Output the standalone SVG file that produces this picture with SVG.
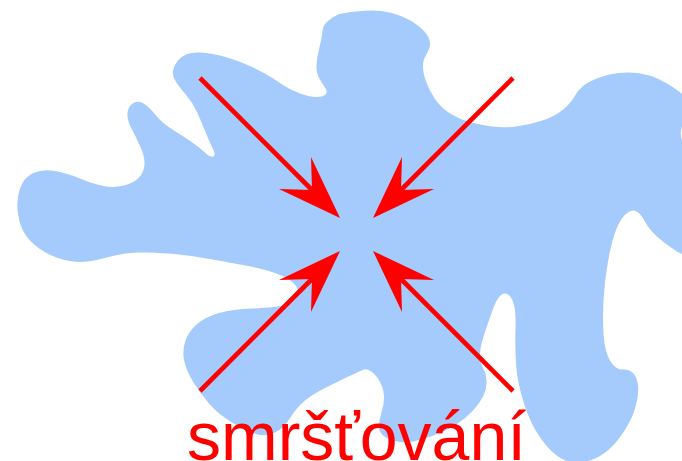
<svg xmlns="http://www.w3.org/2000/svg" width="682" height="461" viewBox="0 0 682 461">
<style>
.blob{fill:#a4cbfc;stroke:none}
.shaft{stroke:#ff0000;stroke-width:4.6;fill:none;stroke-linecap:butt}
.head{fill:#ff0000;stroke:none}
.label{font-family:"Liberation Sans",Arial,sans-serif;font-size:68px;fill:#ff0000}
</style>
<g id="blob">
<path class="blob" d="M 187,54 Q 192,52 201,52.5 Q 210,53 220,55.5 Q 230,58 241.5,62.5 Q 253,67 263,72.5 Q 273,78 281.5,84 Q 290,90 300,93.5 Q 310,97 316.5,97 Q 323,97 325.5,94.5 Q 328,92 325,87.5 Q 322,83 319,78 Q 316,73 316.5,65 Q 317,57 319.5,47 Q 322,37 322.5,31 Q 323,25 328,21 Q 333,17 337,15 Q 341,13 356,11.5 Q 371,10 381,11 Q 391,12 401,16 Q 411,20 418.5,26 Q 426,32 428.5,37.5 Q 431,43 429.5,47.5 Q 428,52 425.5,56 Q 423,60 423,66.5 Q 423,73 426,81.5 Q 429,90 435,99 Q 441,108 451,114 Q 461,120 471,122.5 Q 481,125 492.5,126.5 Q 504,128 516,126.5 Q 528,125 541,121 Q 554,117 562.5,110 Q 571,103 574.5,96.5 Q 578,90 583,86 Q 588,82 598,78 Q 608,74 619,73 Q 630,72 640,73.5 Q 650,75 658.5,79 Q 667,83 675.5,89 Q 684,95 688,100 Q 692,105 689,111.5 Q 686,118 682.5,125.5 Q 679,133 682.5,141.5 Q 686,150 689,160 Q 692,170 692,210 Q 692,250 688,253 Q 684,256 677,251.5 Q 670,247 663.5,242 Q 657,237 652,231.5 Q 647,226 644,220 Q 641,214 636.5,211.5 Q 632,209 626.5,213.5 Q 621,218 617,227.5 Q 613,237 610,251 Q 607,265 605,282.5 Q 603,300 603,317.5 Q 603,335 605,346 Q 607,357 612,363.5 Q 617,370 623,369.5 Q 629,369 633,373 Q 637,377 638,385 Q 639,393 636,405 Q 633,417 625.5,429 Q 618,441 610.5,448 Q 603,455 595,458.5 Q 587,462 579.5,462.5 Q 572,463 564.5,460 Q 557,457 549,448.5 Q 541,440 534.5,428.5 Q 528,417 522.5,398.5 Q 517,380 516,363.5 Q 515,347 515.5,330 Q 516,313 514,305 Q 512,297 508,294.5 Q 504,292 500,296 Q 496,300 492,311.5 Q 488,323 484,335 Q 480,347 480,354.5 Q 480,362 483,367.5 Q 486,373 486.5,380.5 Q 487,388 483.5,395.5 Q 480,403 473,410.5 Q 466,418 457,424 Q 448,430 439,433.5 Q 430,437 419.5,440 Q 409,443 400,442 Q 391,441 385,437 Q 379,433 379,426.5 Q 379,420 381.5,412.5 Q 384,405 384,397.5 Q 384,390 380.5,383 Q 377,376 372,372 Q 367,368 362.5,370 Q 358,372 348.5,376.5 Q 339,381 326,387.5 Q 313,394 305,400.5 Q 297,407 290.5,417.5 Q 284,428 275,432.5 Q 266,437 256,434 Q 246,431 232,422.5 Q 218,414 209,403.5 Q 200,393 193.5,382.5 Q 187,372 184.5,362 Q 182,352 185,342 Q 188,332 196.5,324.5 Q 205,317 219,313 Q 233,309 251.5,308.5 Q 270,308 281,306 Q 292,304 296,298 Q 300,292 296,286 Q 292,280 280,275 Q 268,270 250.5,266.5 Q 233,263 210,259 Q 187,255 168.5,253.5 Q 150,252 137.5,252.5 Q 125,253 115,255.5 Q 105,258 94,260.5 Q 83,263 70,261 Q 57,259 45.5,252.5 Q 34,246 27,237 Q 20,228 18,214 Q 16,200 20,188.5 Q 24,177 33.5,173 Q 43,169 55,171 Q 67,173 80,178.5 Q 93,184 103.5,186 Q 114,188 124,185.5 Q 134,183 139,177.5 Q 144,172 144.5,164.5 Q 145,157 140.5,147 Q 136,137 131.5,128.5 Q 127,120 127.5,113 Q 128,106 133.5,103 Q 139,100 144.5,104 Q 150,108 156,115.5 Q 162,123 174,130.5 Q 186,138 193,143 Q 200,148 205.5,153 Q 211,158 213.5,156.5 Q 216,155 213,149 Q 210,143 205.5,132 Q 201,121 197,112 Q 193,103 186.5,95.5 Q 180,88 176,82 Q 172,76 173,70.5 Q 174,65 178,60.5 Q 182,56 187,54 Z"/>
</g>
<g id="arrows">
<line class="shaft" x1="200" y1="78" x2="314" y2="192"/>
<polygon class="head" points="340,218 311,157 312,190 279,189"/>
<line class="shaft" x1="513" y1="78" x2="399" y2="192"/>
<polygon class="head" points="373,218 402,157 401,190 434,189"/>
<line class="shaft" x1="200" y1="391" x2="314" y2="277"/>
<polygon class="head" points="340,251 311,312 312,279 279,280"/>
<line class="shaft" x1="513" y1="391" x2="399" y2="277"/>
<polygon class="head" points="373,251 402,312 401,279 434,280"/>
</g>
<g id="label">
<text class="label" x="187" y="460">smršťování</text>
</g>
</svg>
